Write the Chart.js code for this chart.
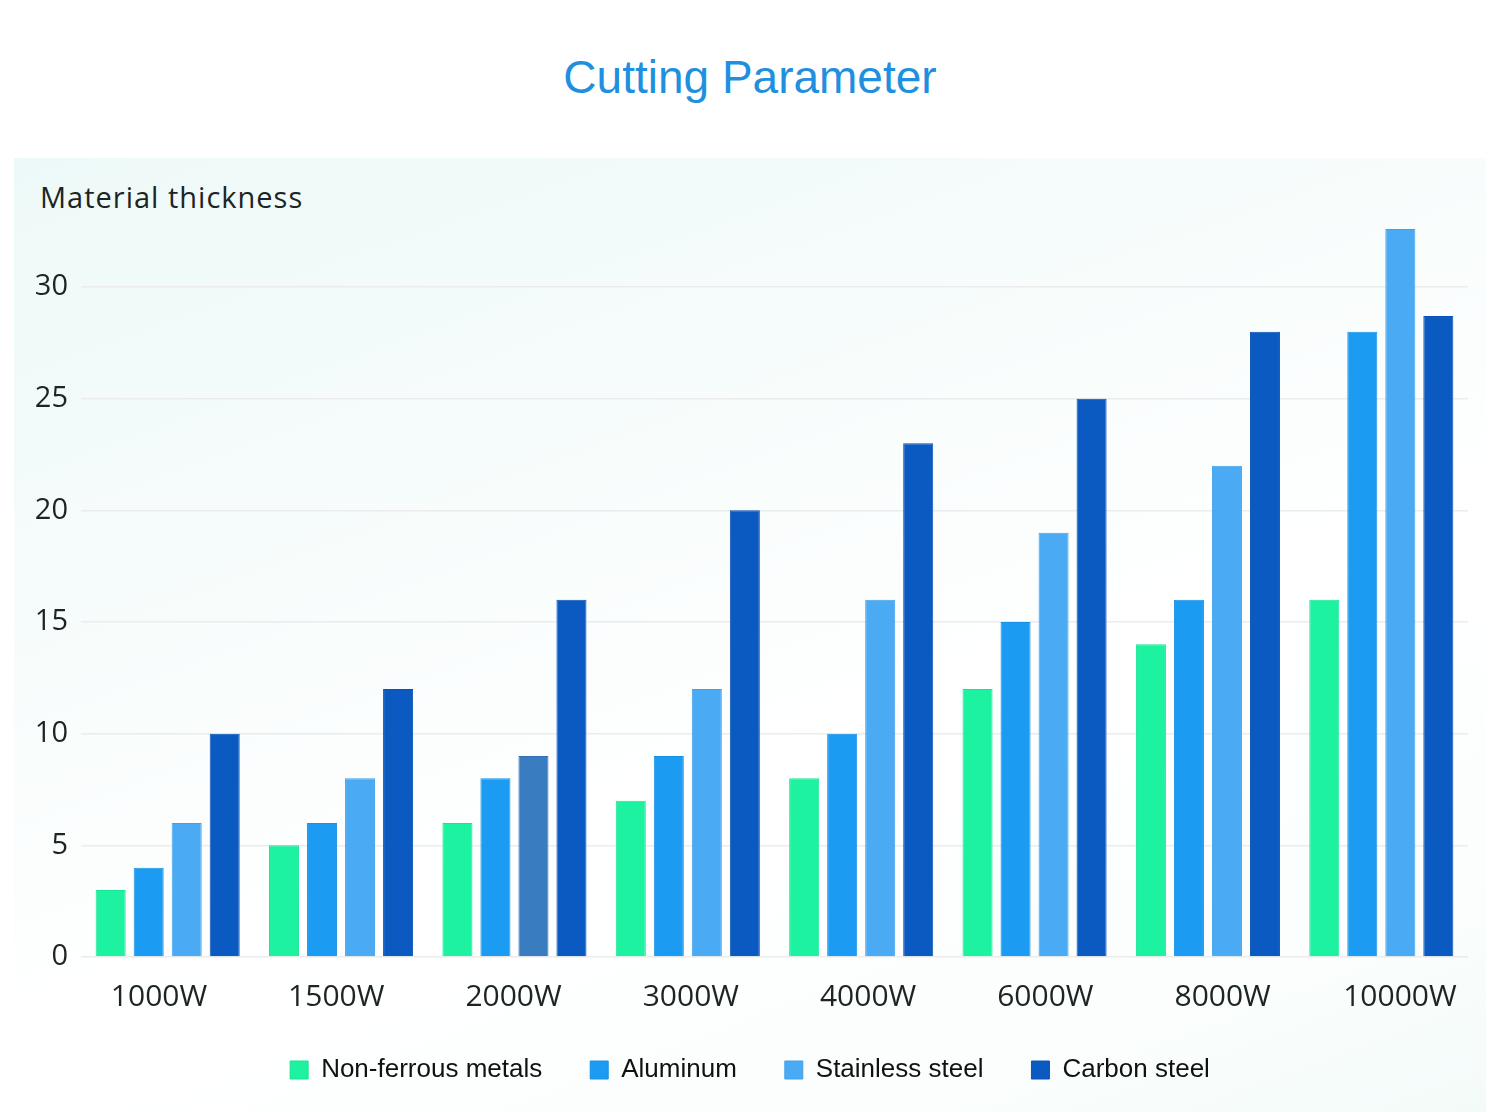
<!DOCTYPE html>
<html>
<head>
<meta charset="utf-8">
<script src="https://cdn.jsdelivr.net/npm/chart.js@4"></script>
<style>
  html, body { margin: 0; padding: 0; background: #ffffff; }
  body { width: 1500px; height: 1112px; position: relative; overflow: hidden; }
  #title {
    position: absolute; left: 0; top: 49px; width: 1500px; text-align: center;
    font-family: "Liberation Sans", Arial, sans-serif; font-size: 46px; color: #1f8fe0;
    line-height: 56px;
  }
  #panel {
    position: absolute; left: 14px; top: 158px; width: 1472px; height: 954px;
    background: linear-gradient(160deg, #edf9f8 0%, #f6fcfb 30%, #ffffff 60%, #fbfefd 85%, #f3fbf9 100%);
  }
  #ytitle {
    position: absolute; left: 40px; top: 177px;
    font-family: "Open Sans", sans-serif; font-size: 29px; color: #1d2424;
    letter-spacing: 1px; line-height: 40px;
  }
  #wrap { position: absolute; left: 0; top: 158px; width: 1500px; height: 954px; }
</style>
</head>
<body>
<div id="title">Cutting Parameter</div>
<div id="panel"></div>
<div id="ytitle">Material thickness</div>
<div id="wrap"><canvas id="c"></canvas></div>
<script>
const categories = ["1000W", "1500W", "2000W", "3000W", "4000W", "6000W", "8000W", "10000W"];
const nonFerrous = [3, 5, 6, 7, 8, 12, 14, 16];
const aluminum = [4, 6, 8, 9, 10, 15, 16, 28];
const stainless = [6, 8, 9, 12, 16, 19, 22, 32.6];
const carbon = [10, 12, 16, 20, 23, 25, 28, 28.7];
const yTicks = [0, 5, 10, 15, 20, 25, 30];

const stainlessColors = stainless.map((v, i) => i === 2 ? '#3a7cc0' : '#4aabf4');
const stainlessBorders = stainless.map((v, i) => i === 2 ? '#3470b0' : '#43a0e8');

const ctx = document.getElementById('c');
new Chart(ctx, {
  type: 'bar',
  data: {
    labels: categories,
    datasets: [
      { label: 'Non-ferrous metals', data: nonFerrous, backgroundColor: '#1cf29f', borderColor: '#19e496', borderWidth: 1 },
      { label: 'Aluminum', data: aluminum, backgroundColor: '#1b9bf2', borderColor: '#1890e4', borderWidth: 1 },
      { label: 'Stainless steel', data: stainless, backgroundColor: stainlessColors, borderColor: stainlessBorders, borderWidth: 1 },
      { label: 'Carbon steel', data: carbon, backgroundColor: '#0b5ac2', borderColor: '#0a52b4', borderWidth: 1 }
    ]
  },
  options: {
    responsive: true,
    maintainAspectRatio: false,
    animation: false,
    layout: { padding: { left: 16, right: 16, top: 62, bottom: 19 } },
    datasets: { bar: { categoryPercentage: 0.877, barPercentage: 0.79 } },
    scales: {
      x: {
        display: false
      },
      xl: {
        type: 'linear',
        position: 'bottom',
        offset: false,
        bounds: 'data',
        min: -0.44,
        max: 7.384,
        grid: { display: false, drawTicks: false, offset: false },
        border: { display: false },
        ticks: {
          padding: 22,
          color: '#1d2424',
          font: { family: 'Open Sans', size: 30 },
          callback: (v) => categories[v]
        },
        afterBuildTicks: (s) => {
          s.ticks = categories.map((c, i) => ({ value: i }));
        },
        afterFit: (s) => { s.height = 52; }
      },
      y: {
        min: 0,
        max: 33,
        grid: { color: '#ececec', lineWidth: 1.5, drawTicks: false },
        border: { display: false },
        ticks: {
          padding: 13,
          color: '#1d2424',
          font: { family: 'Open Sans', size: 29 }
        },
        afterBuildTicks: (s) => { s.ticks = yTicks.map(v => ({ value: v })); },
        afterFit: (s) => { s.width = 65; }
      },
      yr: {
        type: 'linear',
        position: 'right',
        grid: { display: false, drawTicks: false },
        border: { display: false },
        ticks: { display: false },
        afterFit: (s) => { s.width = 16; }
      }
    },
    plugins: {
      legend: {
        position: 'bottom',
        labels: {
          boxWidth: 18,
          boxHeight: 18,
          padding: 48,
          color: '#111111',
          font: { family: 'Liberation Sans', size: 26 }
        }
      },
      tooltip: { enabled: false }
    }
  }
});
</script>
</body>
</html>
